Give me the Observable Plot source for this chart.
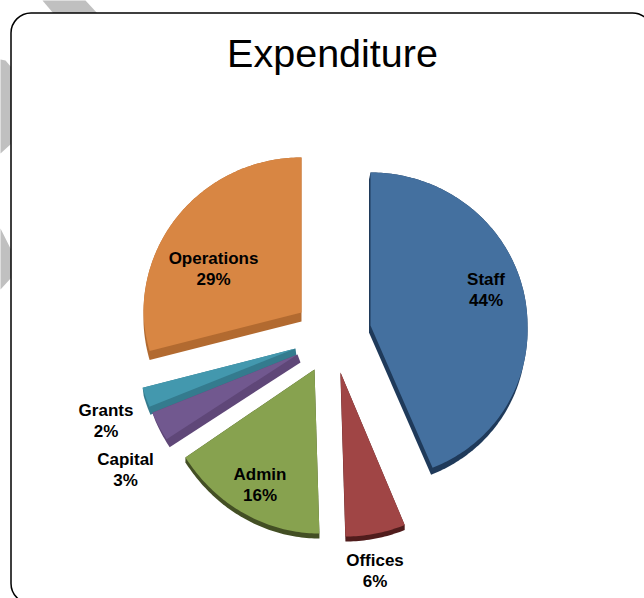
<!DOCTYPE html>
<html><head><meta charset="utf-8">
<script src="https://cdn.jsdelivr.net/npm/d3@7"></script>
<script src="https://cdn.jsdelivr.net/npm/@observablehq/plot@0.6"></script>
<style>html,body{margin:0;padding:0;background:#fff;overflow:hidden}svg{display:block}</style>
</head><body><div id="chart"></div>
<script>
const titleText = "Expenditure";
const categories = ["Staff","Offices","Admin","Capital","Grants","Operations"];
const values = [44,6,16,3,2,29];
const percentLabels = ["44%","6%","16%","3%","2%","29%"];

// Layout and style, separate from the data
const W = 644, H = 598;
const topColors  = ["#44709f","#a04545","#87a24f","#71588f","#4398ae","#d88643"];
const sideColors = ["#1f3a5a","#501c1c","#434f24","#5f4778","#347b8e","#b26a30"];
const apexX = [370,340,314,297,295,301];
const apexY = [325,372,369,354,348,312];
const radX  = [157,162,156,158,159,158];
const radY  = [153,164,164,158,158,155];
const depthX = [-1.5,0,0,3,1,0];
const depthY = [7,5,5,8,8,9];
const labelX = [485.5,374.5,259.5,125,105.5,213];
const labelY = [288,569,483,468,419,267];
const shear = 0.03;
const drawOrder = [5,0,1,2,4,3];

const total = d3.sum(values);
const cum = d3.cumsum(values);
const sliceOutline = i => {
  const a0 = (i ? cum[i-1] : 0) / total * 2 * Math.PI;
  const a1 = cum[i] / total * 2 * Math.PI;
  const n = Math.max(4, Math.ceil((a1 - a0) * 60));
  const pts = [[apexX[i], apexY[i]]];
  for (let k = 0; k <= n; ++k) {
    const a = a0 + (a1 - a0) * k / n;
    const dy = -radY[i] * Math.cos(a);
    pts.push([apexX[i] + radX[i] * Math.sin(a) + shear * Math.max(0, dy), apexY[i] + dy]);
  }
  return pts;
};
const topRows = [], sideRows = [];
for (const i of drawOrder) {
  const face = sliceOutline(i);
  const hull = d3.polygonHull(face.concat(face.map(([x,y]) => [x + depthX[i], y + depthY[i]])));
  hull.push(hull[0]);
  hull.forEach(([x,y]) => sideRows.push({order:i, slice:categories[i]+" side", x, y, color:sideColors[i]}));
  face.concat([face[0]]).forEach(([x,y]) => topRows.push({order:i, slice:categories[i], x, y, color:topColors[i]}));
}
// side then top, one slice at a time so later slices overlap earlier ones
const pieMarks = drawOrder.flatMap(i => [
  Plot.line(sideRows.filter(d => d.order === i), {x:"x", y:"y", z:"slice", fill:"color", stroke:"none", curve:"linear"}),
  Plot.line(topRows.filter(d => d.order === i), {x:"x", y:"y", z:"slice", fill:"color", stroke:"none", curve:"linear"})
]);

// grey shapes behind the card
const backdrop = [
  [[42,0],[85,0],[97,13],[53,13]],
  [[0,59],[5,60],[11,67],[11,143],[0,153]],
  [[0,228],[11,250],[11,277],[0,289]]
].flatMap((p,k) => p.concat([p[0]]).map(([x,y]) => ({k,x,y})));

const labels = categories.map((c,i) => ({text:c+"\n"+percentLabels[i], x:labelX[i], y:labelY[i]}));

const chart = Plot.plot({
  width:W, height:H, margin:0,
  x:{domain:[0,W], range:[0,W], axis:null},
  y:{domain:[0,H], range:[0,H], axis:null},
  color:{type:"identity"},
  style:{background:"#fff", overflow:"hidden"},
  marks:[
    Plot.line(backdrop, {x:"x", y:"y", z:"k", fill:"#c0c0c0", stroke:"none", curve:"linear"}),
    Plot.frame({fill:"#fff", stroke:"#000", strokeWidth:1.5, rx:20, insetLeft:10.5, insetTop:12.5, insetRight:-8, insetBottom:-5}),
    ...pieMarks,
    Plot.text([titleText], {x:()=>332, y:()=>53.5, text:d=>d, fontSize:39.5, fill:"#000", fontFamily:"Liberation Sans"}),
    Plot.text(labels, {x:"x", y:"y", text:"text", fontSize:17, fontWeight:"bold", lineHeight:1.24, fill:"#000", fontFamily:"Liberation Sans"})
  ]
});
document.getElementById("chart").append(chart);
</script></body></html>
